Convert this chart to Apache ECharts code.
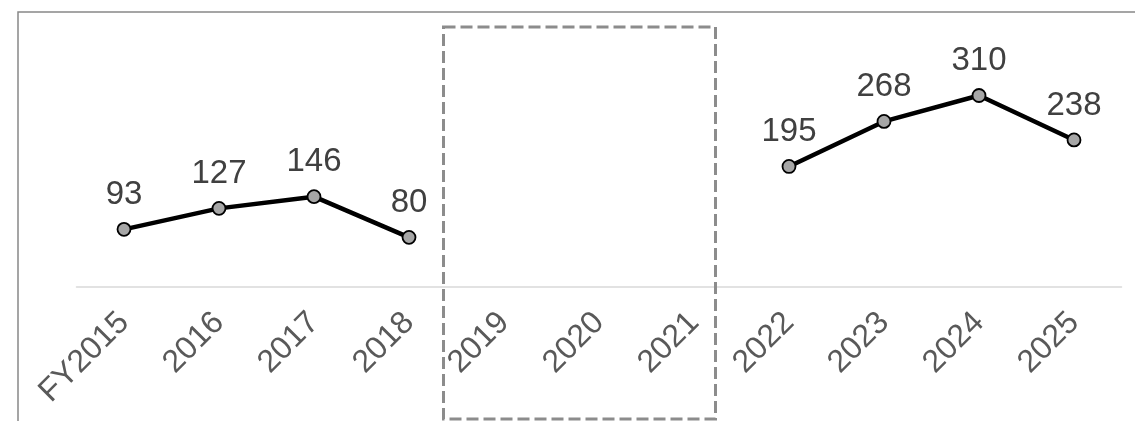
<!DOCTYPE html>
<html>
<head>
<meta charset="utf-8">
<script src="https://cdn.jsdelivr.net/npm/echarts@6/dist/echarts.min.js"></script>
<style>
html,body{margin:0;padding:0;background:#fff;}
#chart{width:1135px;height:421px;}
</style>
</head>
<body>
<div id="chart"></div>
<script>
var categories = ['FY2015','2016','2017','2018','2019','2020','2021','2022','2023','2024','2025'];
var values = [93, 127, 146, 80, null, null, null, 195, 268, 310, 238];
var yMin = 0;
var yMax = 400;

var chart = echarts.init(document.getElementById('chart'), null, {renderer: 'canvas'});
var FONT = "'Liberation Sans', Arial, sans-serif";
chart.setOption({
  animation: false,
  backgroundColor: '#ffffff',
  grid: {left: 76.5, right: 13.5, top: 40, bottom: 134.3, containLabel: false},
  xAxis: {
    type: 'category',
    data: categories,
    boundaryGap: true,
    axisLine: {show: true, lineStyle: {color: '#d9d9d9', width: 1.5}},
    axisTick: {show: false},
    axisLabel: {
      rotate: 45,
      interval: 0,
      margin: 31,
      color: '#595959',
      fontSize: 32,
      fontFamily: FONT
    },
    splitLine: {show: false}
  },
  yAxis: {
    type: 'value',
    min: yMin,
    max: yMax,
    show: false,
    splitLine: {show: false}
  },
  series: [{
    type: 'line',
    data: values,
    connectNulls: false,
    symbol: 'circle',
    symbolSize: 13,
    lineStyle: {color: '#000000', width: 4.5},
    itemStyle: {color: '#a6a6a6', borderColor: '#000000', borderWidth: 1.8},
    label: {
      show: true,
      position: 'top',
      distance: 10.5,
      color: '#404040',
      fontSize: 33,
      fontFamily: FONT
    },
    z: 3
  }],
  graphic: [
    {
      type: 'polyline',
      shape: {points: [[18, 430], [18, 12], [1140, 12]]},
      style: {stroke: '#888888', lineWidth: 1.5, fill: null},
      silent: true
    },
    {
      type: 'rect',
      shape: {x: 443.5, y: 27, width: 272, height: 392},
      style: {stroke: '#8c8c8c', lineWidth: 3, fill: null, lineDash: [12, 5]},
      silent: true,
      z: 10
    }
  ]
});
</script>
</body>
</html>
